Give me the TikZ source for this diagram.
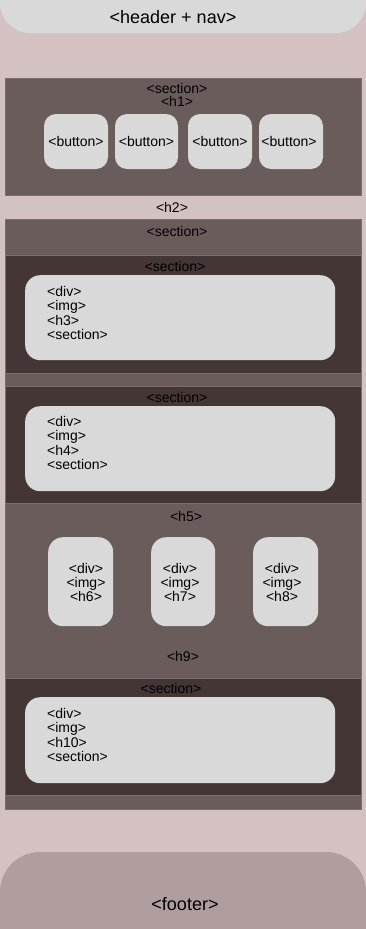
\documentclass[tikz,border=0pt]{standalone}
\usepackage{fontspec}
\setmainfont{Liberation Sans}
\definecolor{pagebg}{HTML}{D4C1C1}
\definecolor{lightbox}{HTML}{D9D9D9}
\definecolor{midsec}{HTML}{6B5C5C}
\definecolor{darksec}{HTML}{453636}
\definecolor{footbg}{HTML}{B09E9E}
\definecolor{secedge}{HTML}{7D6E6E}
\tikzset{
  sec/.style={draw=secedge, line width=0.5pt, inner sep=0pt, anchor=north west},
  midbox/.style={sec, fill=midsec},
  darkbox/.style={sec, fill=darksec},
  card/.style={fill=lightbox, rounded corners=15pt, inner sep=0pt, anchor=north west},
  btn/.style={fill=lightbox, rounded corners=12pt, inner sep=0pt, minimum height=55pt},
  lbl/.style={font=\fontsize{14}{14}\selectfont, inner sep=0pt, text=black},
  big/.style={font=\fontsize{18}{18}\selectfont, inner sep=0pt, text=black},
  list/.style={font=\fontsize{14}{14.5}\selectfont, inner sep=0pt, align=left, anchor=north west},
  clist/.style={font=\fontsize{14}{14}\selectfont, inner sep=0pt, align=center},
}
\begin{document}
\begin{tikzpicture}[x=1pt, y=-1pt]
\useasboundingbox (0,0) rectangle (366,929);
\clip (0,0) rectangle (366,929);
\fill[pagebg] (0,0) rectangle (366,929);

% header bar, rounded at the bottom only
\fill[lightbox, rounded corners=30pt] (0,-60) rectangle (366,33);
\node[big] (header) at (173,17) {<header + nav>};

% first section with the button row
\node[midbox, minimum width=356pt, minimum height=117pt] (sec1) at (5,78) {};
\node[lbl] (sec1t) at (177,88) {<section>};
\node[lbl] (h1) at (177,101) {<h1>};
\node[btn, minimum width=64pt] (b1) at (76,141.5) {};
\node[btn, minimum width=63pt] (b2) at (146.5,141.5) {};
\node[btn, minimum width=64pt] (b3) at (220,141.5) {};
\node[btn, minimum width=64pt] (b4) at (291,141.5) {};
\node[lbl] (b1t) at (b1) {<button>};
\node[lbl] (b2t) at (b2) {<button>};
\node[lbl] (b3t) at (b3) {<button>};
\node[lbl] (b4t) at (289,141.5) {<button>};

\node[lbl] (h2) at (172,207) {<h2>};

% second section holding the nested sections
\node[midbox, minimum width=356pt, minimum height=590pt] (sec2) at (5,219) {};
\node[lbl] (sec2t) at (177,231) {<section>};

\node[darkbox, minimum width=356pt, minimum height=118pt] (secA) at (5,255) {};
\node[lbl] (secAt) at (175,266) {<section>};
\node[card, minimum width=310pt, minimum height=85pt] (cardA) at (25,275) {};
\node[list] (cardAt) at (47,286) {<div>\\<img>\\<h3>\\<section>};

\node[darkbox, minimum width=356pt, minimum height=117pt] (secB) at (5,386) {};
\node[lbl] (secBt) at (177,397) {<section>};
\node[card, minimum width=310pt, minimum height=85pt] (cardB) at (25,406) {};
\node[list] (cardBt) at (47,416) {<div>\\<img>\\<h4>\\<section>};

\node[lbl] (h5) at (186,516) {<h5>};
\node[card, minimum width=65pt, minimum height=89pt] (c6) at (48,537) {};
\node[card, minimum width=64pt, minimum height=89pt] (c7) at (151,537) {};
\node[card, minimum width=65pt, minimum height=89pt] (c8) at (253,537) {};
\node[clist] (c6t) at (86,582) {<div>\\<img>\\<h6>};
\node[clist] (c7t) at (180,582) {<div>\\<img>\\<h7>};
\node[clist] (c8t) at (282,582) {<div>\\<img>\\<h8>};

\node[lbl] (h9) at (183,656) {<h9>};

\node[darkbox, minimum width=356pt, minimum height=117pt] (secC) at (5,678) {};
\node[lbl] (secCt) at (171,688) {<section>};
\node[card, minimum width=310pt, minimum height=86pt] (cardC) at (25,697) {};
\node[list] (cardCt) at (47,708) {<div>\\<img>\\<h10>\\<section>};

% footer, rounded at the top only
\fill[footbg, rounded corners=40pt] (0,852) rectangle (366,1000);
\node[big] (footer) at (185,904) {<footer>};
\end{tikzpicture}
\end{document}
